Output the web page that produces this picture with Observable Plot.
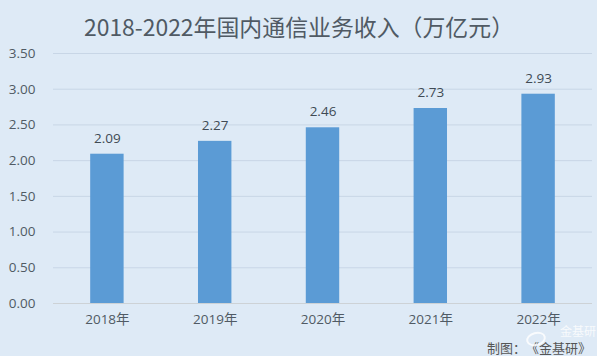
<!DOCTYPE html>
<html><head><meta charset="utf-8">
<script src="https://cdn.jsdelivr.net/npm/d3@7"></script>
<script src="https://cdn.jsdelivr.net/npm/@observablehq/plot@0.6"></script>
<style>
html,body{margin:0;padding:0;background:#deeaf6;overflow:hidden}
#c{position:relative;width:597px;height:356px;font-family:"Noto Sans CJK SC","Open Sans",sans-serif}
#t{position:absolute;left:84px;top:11px;font-size:22.9px;color:#505a64;white-space:nowrap;line-height:30px}
#s{position:absolute;left:487px;top:340px;font-size:13px;color:#555;white-space:nowrap;line-height:16px;text-spacing-trim:space-all;font-feature-settings:"palt" 0}
#w{position:absolute;left:560px;top:324px;font-size:12px;color:#fff;opacity:.8;white-space:nowrap;line-height:13px}
#i{position:absolute;left:526px;top:332px;width:16px;height:10px;border:2px solid #fff;border-radius:50%;opacity:.8;transform:rotate(-15deg)}
svg{display:block}
</style></head><body><div id="c"></div>
<script>
const years = ["2018年","2019年","2020年","2021年","2022年"];
const revenue = [2.09,2.27,2.46,2.73,2.93];
const yTicks = [0,0.5,1,1.5,2,2.5,3,3.5];
const titleText = "2018-2022年国内通信业务收入（万亿元）";
const sourceText = "制图：《金基研》";
const markText = "金基研";
const rows = years.map((y,i)=>({year:y,value:revenue[i]}));
const font = '"Open Sans","Noto Sans CJK SC",sans-serif';
const plot = Plot.plot({
  width:597,height:356,marginTop:53,marginBottom:53,marginLeft:53,marginRight:5,
  style:{background:"#deeaf6",fontFamily:font,fontSize:"13.5px",color:"#505a64"},
  x:{domain:years,paddingInner:0.69,paddingOuter:0.345,round:false,label:null,tickSize:0,tickPadding:11},
  y:{domain:[0,3.5],label:null,ticks:yTicks,tickSize:0,tickPadding:18,tickFormat:d3.format(".2f")},
  marks:[
    Plot.ruleY(yTicks.filter(d=>d>0),{stroke:"#c8d6e6",strokeWidth:1}),
    Plot.barY(rows,{x:"year",y:"value",fill:"#5b9bd5"}),
    Plot.ruleY([0],{stroke:"#cdd2d6",strokeWidth:1}),
    Plot.text(rows,{x:"year",y:"value",text:d=>d.value.toFixed(2),dy:-16,fill:"#404a54",fontSize:13.5})
  ]
});
const c=document.getElementById("c");
c.appendChild(plot);
for(const [id,txt] of [["t",titleText],["s",sourceText],["i",""],["w",markText]]){
  const d=document.createElement("div");d.id=id;d.textContent=txt;c.appendChild(d);
}
</script></body></html>
